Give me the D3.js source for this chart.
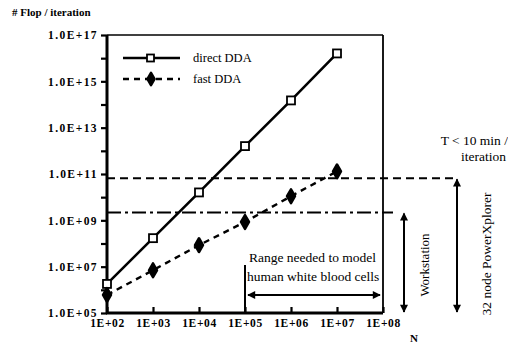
<!DOCTYPE html>
<html>
<head>
<meta charset="utf-8">
<script src="https://cdn.jsdelivr.net/npm/d3@7"></script>
<style>
  body { margin: 0; background: #fff; }
  svg text { font-family: "Liberation Serif", "DejaVu Serif", serif !important; fill: #000; }
</style>
</head>
<body>
<svg id="chart" width="508" height="345"></svg>
<script>
// data
const nValues = [1e2, 1e3, 1e4, 1e5, 1e6, 1e7];
const directDDA = [1.8e6, 1.7e8, 1.6e10, 1.6e12, 1.5e14, 1.6e16];
const fastDDA = [6e5, 7e6, 8.5e7, 8.5e8, 1.1e10, 1.3e11];
const xTicks = [1e2, 1e3, 1e4, 1e5, 1e6, 1e7, 1e8];
const xTickLabels = ['1E+02', '1E+03', '1E+04', '1E+05', '1E+06', '1E+07', '1E+08'];
const yTicks = [1e5, 1e7, 1e9, 1e11, 1e13, 1e15, 1e17];
const yTickLabels = ['1.0E+05', '1.0E+07', '1.0E+09', '1.0E+11', '1.0E+13', '1.0E+15', '1.0E+17'];
const yMinorTicks = [1e6, 1e8, 1e10, 1e12, 1e14, 1e16];
const limitPowerX = 6.6e10;   // T < 10 min / iteration on PowerXplorer
const limitWorkstation = 2.2e9;
const rangeNeeded = [1e5, 1e8];

const serif = '"Liberation Serif", "DejaVu Serif", serif';
const margin = { top: 35, right: 125, bottom: 32, left: 107 };
const width = 508 - margin.left - margin.right;
const height = 345 - margin.top - margin.bottom;

const svg = d3.select('#chart').attr('font-family', serif);
const g = svg.append('g').attr('transform', `translate(${margin.left},${margin.top})`);

const x = d3.scaleLog().domain([1e2, 1e8]).range([0, width]);
const y = d3.scaleLog().domain([1e5, 1e17]).range([height, 0]);

// frame (top and right thin)
g.append('line').attr('x1', 0).attr('x2', x(1e8)).attr('y1', 0).attr('y2', 0)
  .attr('stroke', '#000').attr('stroke-width', 1.3);
g.append('line').attr('x1', x(1e8)).attr('x2', x(1e8)).attr('y1', 0).attr('y2', height)
  .attr('stroke', '#000').attr('stroke-width', 1.8);

// y axis
const yAxis = g.append('g')
  .call(d3.axisLeft(y).tickValues(yTicks).tickSize(6).tickFormat((d, i) => yTickLabels[i]))
  .attr('font-family', serif);
g.append('g')
  .call(d3.axisLeft(y).tickValues(yMinorTicks).tickSize(6).tickFormat(''))
  .call(a => a.select('.domain').remove())
  .selectAll('line').attr('stroke-width', 2.2);
yAxis.select('.domain').attr('stroke-width', 3).attr('d', `M0,${height + 1}V0`);
yAxis.selectAll('.tick line').attr('stroke-width', 2.2);
yAxis.selectAll('.tick text').attr('font-size', 11.5).attr('font-weight', 'bold')
  .attr('letter-spacing', 1.4).attr('x', -9);

// x axis, ticks inside
const xAxis = g.append('g').attr('transform', `translate(0,${height})`)
  .call(d3.axisBottom(x).tickValues(xTicks).tickSize(-6).tickFormat((d, i) => xTickLabels[i]))
  .attr('font-family', serif);
xAxis.select('.domain').attr('stroke-width', 3).attr('d', `M-1,0H${width}`);
xAxis.selectAll('.tick line').attr('stroke-width', 2.2);
xAxis.selectAll('.tick text').attr('font-size', 11.5).attr('font-weight', 'bold')
  .attr('letter-spacing', 0.6).attr('y', 6);

// horizontal limit lines
g.append('line')
  .attr('x1', 0).attr('x2', 453 - margin.left)
  .attr('y1', y(limitPowerX)).attr('y2', y(limitPowerX))
  .attr('stroke', '#000').attr('stroke-width', 2).attr('stroke-dasharray', '8,5');
g.append('line')
  .attr('x1', 0).attr('x2', 393 - margin.left)
  .attr('y1', y(limitWorkstation)).attr('y2', y(limitWorkstation))
  .attr('stroke', '#000').attr('stroke-width', 2).attr('stroke-dasharray', '14,4,3,4');

// series lines
const line = d3.line().x(d => x(d[0])).y(d => y(d[1]));
g.append('path').datum(nValues.map((n, i) => [n, directDDA[i]]))
  .attr('d', line).attr('fill', 'none').attr('stroke', '#000').attr('stroke-width', 2.6);
g.append('path').datum(nValues.map((n, i) => [n, fastDDA[i]]))
  .attr('d', line).attr('fill', 'none').attr('stroke', '#000').attr('stroke-width', 2.4)
  .attr('stroke-dasharray', '6,5');

// markers
g.selectAll('.sq').data(nValues).enter().append('rect')
  .attr('x', d => x(d) - 4).attr('y', (d, i) => y(directDDA[i]) - 4)
  .attr('width', 8).attr('height', 8)
  .attr('fill', '#fff').attr('stroke', '#000').attr('stroke-width', 1.8);
g.selectAll('.dia').data(nValues).enter().append('path')
  .attr('transform', (d, i) => `translate(${x(d)},${y(fastDDA[i])})`)
  .attr('d', d3.symbol().type(d3.symbolDiamond).size(55))
  .attr('fill', '#000').attr('stroke', '#000').attr('stroke-width', 2.5)
  .attr('stroke-linejoin', 'round');

// legend
const lg = g.append('g').attr('transform', 'translate(16,23)');
lg.append('line').attr('x1', 0).attr('x2', 57).attr('y1', 0).attr('y2', 0)
  .attr('stroke', '#000').attr('stroke-width', 2.4);
lg.append('rect').attr('x', 24).attr('y', -3.5).attr('width', 7).attr('height', 7)
  .attr('fill', '#fff').attr('stroke', '#000').attr('stroke-width', 1.8);
lg.append('text').attr('x', 70).attr('y', 4).attr('font-size', 12.5).text('direct DDA');
lg.append('line').attr('x1', 0).attr('x2', 57).attr('y1', 21).attr('y2', 21)
  .attr('stroke', '#000').attr('stroke-width', 2.4).attr('stroke-dasharray', '6,5');
lg.append('path').attr('transform', 'translate(28,21)')
  .attr('d', d3.symbol().type(d3.symbolDiamond).size(45))
  .attr('fill', '#000').attr('stroke', '#000').attr('stroke-width', 2.5)
  .attr('stroke-linejoin', 'round');
lg.append('text').attr('x', 70).attr('y', 25).attr('font-size', 12.5).text('fast DDA');

// arrowheads
const defs = svg.append('defs');
defs.append('marker').attr('id', 'arr').attr('viewBox', '0 0 10 10')
  .attr('refX', 9).attr('refY', 5).attr('markerWidth', 5).attr('markerHeight', 4)
  .attr('orient', 'auto-start-reverse')
  .append('path').attr('d', 'M0,0L10,5L0,10z').attr('fill', '#000');

// range needed
g.append('line').attr('x1', x(rangeNeeded[0])).attr('x2', x(rangeNeeded[0]))
  .attr('y1', 265 - margin.top).attr('y2', height)
  .attr('stroke', '#000').attr('stroke-width', 2);
g.append('line').attr('x1', x(rangeNeeded[0]) + 3).attr('x2', x(rangeNeeded[1]) - 3)
  .attr('y1', 295 - margin.top).attr('y2', 295 - margin.top)
  .attr('stroke', '#000').attr('stroke-width', 2)
  .attr('marker-start', 'url(#arr)').attr('marker-end', 'url(#arr)');
g.append('text').attr('x', x(rangeNeeded[0]) + 4).attr('y', 262 - margin.top)
  .attr('font-size', 13.5).text('Range needed to model');
g.append('text').attr('x', x(rangeNeeded[0]) + 2).attr('y', 281 - margin.top)
  .attr('font-size', 13.5).text('human white blood cells');

// vertical arrows on the right
g.append('line').attr('x1', 297).attr('x2', 297)
  .attr('y1', y(limitWorkstation) + 1).attr('y2', height - 1)
  .attr('stroke', '#000').attr('stroke-width', 2)
  .attr('marker-start', 'url(#arr)').attr('marker-end', 'url(#arr)');
g.append('line').attr('x1', 350).attr('x2', 350)
  .attr('y1', y(limitPowerX) + 1).attr('y2', height - 1)
  .attr('stroke', '#000').attr('stroke-width', 2)
  .attr('marker-start', 'url(#arr)').attr('marker-end', 'url(#arr)');
svg.append('text').attr('transform', 'translate(429,265) rotate(-90)')
  .attr('text-anchor', 'middle').attr('font-size', 13).text('Workstation');
svg.append('text').attr('transform', 'translate(491,254) rotate(-90)')
  .attr('text-anchor', 'middle').attr('font-size', 13.5).text('32 node PowerXplorer');

// T < 10 min label
svg.append('text').attr('x', 508).attr('y', 145).attr('text-anchor', 'end')
  .attr('font-size', 13.5).text('T < 10 min /');
svg.append('text').attr('x', 506).attr('y', 161).attr('text-anchor', 'end')
  .attr('font-size', 13.5).text('iteration');

// axis titles
svg.append('text').attr('x', 12).attr('y', 16).attr('font-size', 11).attr('font-weight', 'bold')
  .text('# Flop / iteration');
svg.append('text').attr('x', 410).attr('y', 342).attr('font-size', 11).attr('font-weight', 'bold')
  .text('N');
</script>
</body>
</html>
